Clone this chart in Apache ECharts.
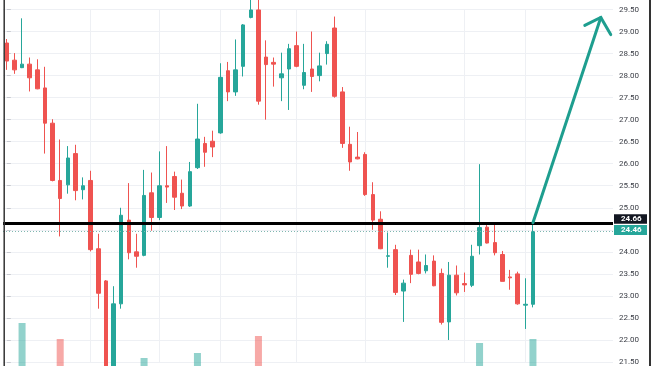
<!DOCTYPE html>
<html>
<head>
<meta charset="utf-8">
<script src="https://cdn.jsdelivr.net/npm/echarts@6/dist/echarts.min.js"></script>
<style>
html,body{margin:0;padding:0;background:#fff;}
#chart{width:654px;height:366px;}
</style>
</head>
<body>
<div id="chart"></div>
<script>
// ---- data ----
const opens  = [28.74,28.35,28.18,28.26,28.13,27.72,26.92,25.62,25.52,26.23,25.41,25.62,24.07,23.34,21.35,22.82,24.72,24.00,23.92,25.34,
                24.78,25.50,25.71,25.33,25.04,25.91,26.46,26.51,26.70,28.11,27.63,28.21,29.32,29.49,28.42,28.30,27.95,28.15,28.68,27.78,
                28.15,28.00,28.50,29.08,27.63,26.44,26.15,26.21,25.30,24.74,23.90,24.05,23.11,23.92,23.77,23.57,23.79,23.51,22.41,23.47,
                23.28,23.24,24.14,24.56,24.21,23.94,23.43,23.50,22.79,22.81];
const closes = [28.33,28.13,28.26,27.95,27.70,26.92,25.62,25.21,26.13,25.39,25.50,24.05,23.06,21.30,22.82,24.83,23.98,23.90,25.28,24.78,
                25.50,25.47,25.24,25.04,25.82,26.56,26.26,26.38,27.96,27.63,28.13,29.15,29.49,27.42,28.25,28.26,28.04,28.61,28.21,28.07,
                27.98,28.22,28.71,27.53,26.46,26.04,26.11,25.30,24.72,24.07,23.91,23.08,23.29,23.49,23.51,23.69,23.23,22.40,23.47,23.07,
                23.25,23.90,24.55,24.20,23.98,23.33,23.41,22.82,22.81,24.46];
const lows   = [28.13,28.04,28.17,27.64,27.69,26.23,25.60,24.35,25.32,25.17,25.19,24.01,22.71,21.20,21.20,22.71,23.83,23.64,23.90,24.48,
                24.72,25.11,24.95,24.97,25.02,25.88,25.93,26.15,26.68,27.42,27.54,27.98,29.30,27.34,27.00,27.75,27.42,27.22,28.19,27.69,
                27.63,27.87,28.25,27.50,26.36,25.84,26.10,25.27,24.50,24.06,23.64,23.02,22.41,23.29,23.49,23.51,23.22,22.35,22.00,23.01,
                23.09,23.20,23.94,24.19,23.92,23.33,23.14,22.80,22.25,22.74];
const highs  = [28.83,28.51,29.30,28.41,28.37,28.20,27.01,26.55,26.40,26.43,25.69,25.84,24.41,23.36,23.22,25.00,25.56,24.41,25.86,25.80,
                26.28,26.40,25.82,25.64,26.04,27.36,26.61,26.75,28.28,28.31,28.82,29.17,29.75,29.80,28.80,28.41,28.52,28.72,29.00,28.72,
                29.00,28.52,28.78,29.34,27.74,26.84,26.72,26.26,25.58,24.92,24.44,24.16,23.37,24.05,24.05,23.94,23.92,23.62,23.77,23.69,
                23.53,24.16,25.99,24.62,24.62,24.02,23.59,23.55,23.40,24.66];
// volume: only the bars that rise into the visible picture can be read (others unknown)
const volumes = [null,null,77,null,null,null,null,61,null,null, null,null,null,null,null,null,null,null,42,null,
                 null,null,null,null,null,47,null,null,null,null, null,null,null,64,null,null,null,null,null,null,
                 null,null,null,null,null,null,null,null,null,null, null,null,null,null,null,null,null,null,null,null,
                 null,null,57,null,null,null,null,null,null,61];
const slotCount = 80;                       // bars + empty right margin
const categories = Array.from({length: slotCount}, (_, i) => 'Bar ' + (i + 1));
const levelLine = 24.66;                    // horizontal level
const lastPrice = 24.46;                    // last close
const yTicks = {min: 21.5, max: 29.5, interval: 0.5};
const volRange = {min: 34, max: 120};       // visible part of the volume pane
const timeGridBars = [11, 20, 28, 38, 47, 60, 68];
const arrowShaft = [[69, 24.66], [77.9, 29.32]];
const arrowHead  = [[75.8, 29.14], [77.9, 29.32], [79.2, 28.93]];

// ---- styles ----
const UP = '#26a69a', DOWN = '#ef5350';
const candleData = opens.map((o, i) => [o, closes[i], lows[i], highs[i]]);
const volData = volumes.map((v, i) => ({
  value: v,
  itemStyle: {color: closes[i] >= opens[i] ? 'rgba(38,166,154,0.5)' : 'rgba(239,83,80,0.5)'}
}));

const chart = echarts.init(document.getElementById('chart'), null, {renderer: 'canvas'});
const gridLeft = 3, gridRight = 41;
chart.setOption({
  animation: false,
  backgroundColor: '#ffffff',
  grid: [
    {left: gridLeft, right: gridRight, top: 9.5, height: 356.5},
    {left: gridLeft, right: gridRight, top: 280, height: 86}
  ],
  xAxis: [
    {type: 'category', data: categories, gridIndex: 0, boundaryGap: true,
     axisLine: {show: false}, axisTick: {show: false}, axisLabel: {show: false}, splitLine: {show: false}},
    {type: 'category', data: categories, gridIndex: 1, boundaryGap: true, show: false},
    {type: 'value', gridIndex: 0, min: -0.5, max: slotCount - 0.5, show: false}
  ],
  yAxis: [
    {type: 'value', gridIndex: 0, position: 'right', min: yTicks.min, max: yTicks.max, interval: yTicks.interval,
     axisLine: {show: false},
     axisTick: {show: true, length: 4, lineStyle: {color: '#c8cad0'}},
     axisLabel: {margin: 6, color: '#3a3d45', fontSize: 8, fontFamily: 'Roboto',
                 formatter: v => v.toFixed(2)},
     splitLine: {show: true, lineStyle: {color: '#eef0f4', width: 1}}},
    {type: 'value', gridIndex: 1, min: volRange.min, max: volRange.max, show: false}
  ],
  series: [
    {type: 'line', xAxisIndex: 2, yAxisIndex: 0, data: [], z: 0, zlevel: 0, silent: true,
     markLine: {silent: true, symbol: 'none', label: {show: false}, z: 0,
       lineStyle: {color: '#eef0f4', width: 1, type: 'solid'},
       data: timeGridBars.map(b => ({xAxis: b}))}},
    {type: 'bar', xAxisIndex: 1, yAxisIndex: 1, data: volData, barWidth: 7, z: 1, silent: true},
    {type: 'candlestick', xAxisIndex: 0, yAxisIndex: 0, data: candleData, barWidth: 4, z: 3, clip: false,
     itemStyle: {color: UP, color0: DOWN, borderColor: UP, borderColor0: DOWN, borderWidth: 1},
     markLine: {silent: true, symbol: 'none', label: {show: false}, z: 4,
       data: [
         {yAxis: lastPrice, lineStyle: {color: '#7fb7b0', width: 1, type: [1, 2]}},
         {yAxis: levelLine, lineStyle: {color: '#000000', width: 3, type: 'solid'}}
       ]}},
    {type: 'line', xAxisIndex: 2, yAxisIndex: 0, data: arrowShaft, symbol: 'none', clip: false, z: 5,
     lineStyle: {color: '#1e9e8f', width: 3, cap: 'round'}},
    {type: 'line', xAxisIndex: 2, yAxisIndex: 0, data: arrowHead, symbol: 'none', clip: false, z: 5,
     lineStyle: {color: '#1e9e8f', width: 3, cap: 'round', join: 'miter'}}
  ]
});

// price tags and frame lines, placed through the axes
const yLevel = chart.convertToPixel({yAxisIndex: 0}, levelLine);
const yLast = chart.convertToPixel({yAxisIndex: 0}, lastPrice);
const xRight = chart.convertToPixel({xAxisIndex: 2}, slotCount - 0.5);
chart.setOption({
  graphic: [
    {type: 'rect', z: 100, shape: {x: xRight + 1, y: yLevel - 8.5, width: 33, height: 9.5}, style: {fill: '#131722'}},
    {type: 'text', z: 101, x: xRight + 8, y: yLevel - 3.8,
     style: {text: levelLine.toFixed(2), fill: '#ffffff', font: 'bold 8px Roboto', verticalAlign: 'middle'}},
    {type: 'rect', z: 100, shape: {x: xRight + 1, y: yLast - 6.5, width: 33, height: 10}, style: {fill: '#26a69a'}},
    {type: 'text', z: 101, x: xRight + 8, y: yLast - 1.5,
     style: {text: lastPrice.toFixed(2), fill: '#ffffff', font: 'bold 8px Roboto', verticalAlign: 'middle'}},
    {type: 'line', z: 100, shape: {x1: 4.2, y1: 0, x2: 4.2, y2: 366}, style: {stroke: '#333333', lineWidth: 1.5}},
    {type: 'line', z: 100, shape: {x1: 650, y1: 0, x2: 650, y2: 366}, style: {stroke: '#333333', lineWidth: 2}}
  ]
});
</script>
</body>
</html>
